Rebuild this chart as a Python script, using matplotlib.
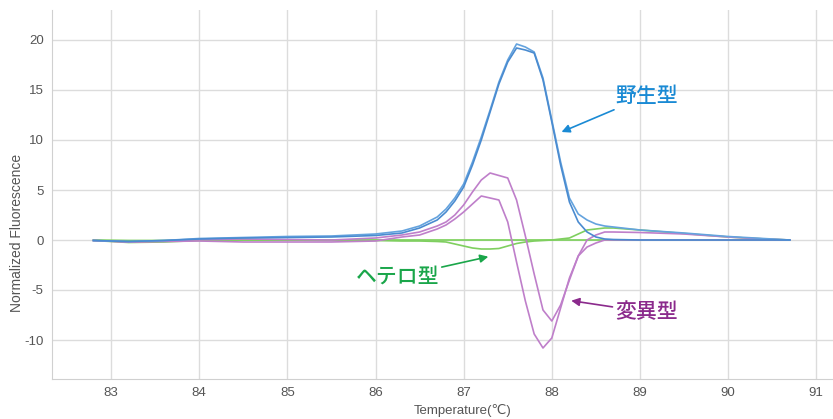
import matplotlib
matplotlib.use("Agg")
import matplotlib.pyplot as plt

temps = [82.8, 83.2, 83.6, 84.0, 84.5, 85.0, 85.5, 86.0, 86.3, 86.5, 86.7, 86.8,
         86.9, 87.0, 87.1, 87.2, 87.3, 87.4, 87.5, 87.6, 87.7, 87.8, 87.9, 88.0,
         88.1, 88.2, 88.3, 88.4, 88.5, 88.6, 88.7, 89.0, 89.5, 90.0, 90.3, 90.7]

wild1 = [-0.05, -0.15, -0.05, 0.15, 0.25, 0.35, 0.4, 0.6, 0.9, 1.4, 2.3, 3.1,
         4.2, 5.6, 7.8, 10.3, 13.0, 15.8, 18.0, 19.6, 19.3, 18.8, 16.2, 12.0,
         7.8, 4.2, 2.6, 2.0, 1.6, 1.4, 1.3, 1.0, 0.7, 0.35, 0.2, 0.0]
wild2 = [-0.05, -0.15, -0.05, 0.1, 0.2, 0.25, 0.3, 0.45, 0.7, 1.2, 2.0, 2.8,
         3.9, 5.3, 7.5, 10.0, 12.8, 15.6, 17.8, 19.2, 19.0, 18.7, 16.0, 11.8,
         7.5, 3.8, 1.8, 0.8, 0.3, 0.1, 0.05, 0.0, 0.0, 0.0, 0.0, 0.0]
mut1 = [-0.05, -0.2, -0.1, 0.05, 0.1, 0.05, 0.0, 0.2, 0.5, 0.8, 1.4, 1.8,
        2.5, 3.5, 4.8, 6.0, 6.7, 6.45, 6.2, 4.0, 0.4, -3.4, -7.0, -8.1,
        -6.5, -4.0, -1.6, 0.0, 0.5, 0.8, 0.8, 0.75, 0.6, 0.3, 0.15, 0.0]
mut2 = [-0.05, -0.2, -0.15, -0.1, -0.2, -0.2, -0.2, -0.1, 0.3, 0.5, 1.1, 1.5,
        2.1, 2.8, 3.6, 4.4, 4.2, 4.0, 1.8, -2.2, -6.1, -9.4, -10.8, -9.8,
        -6.8, -3.8, -1.6, -0.7, -0.3, 0.0, 0.0, 0.0, 0.0, 0.0, 0.0, 0.0]
het1 = [-0.05, -0.25, -0.2, -0.05, 0.0, 0.0, -0.05, -0.05, -0.1, -0.1, -0.15, -0.2,
        -0.4, -0.6, -0.8, -0.9, -0.9, -0.85, -0.6, -0.35, -0.2, -0.1, -0.05, 0.0,
        0.1, 0.2, 0.6, 1.0, 1.1, 1.2, 1.2, 1.0, 0.65, 0.3, 0.15, 0.0]
het2 = [0.0, -0.05, -0.05, 0.0, 0.0, 0.0, 0.0, 0.0, 0.0, 0.0, 0.0, 0.0,
        0.0, 0.0, 0.0, 0.0, 0.0, 0.0, 0.0, 0.0, 0.0, 0.0, 0.0, 0.0,
        0.0, 0.0, 0.0, 0.0, 0.0, 0.0, 0.0, 0.0, 0.0, 0.0, 0.0, 0.0]

xticks = [83, 84, 85, 86, 87, 88, 89, 90, 91]
yticks = [-10, -5, 0, 5, 10, 15, 20]

plt.rcParams['font.family'] = ['Liberation Sans', 'DejaVu Sans']
plt.rcParams['axes.unicode_minus'] = False
jp = ['Noto Sans CJK JP', 'DejaVu Sans']

fig = plt.figure(figsize=(8.33, 4.19), dpi=100)
ax = fig.add_axes([52/833, 40/419, 781/833, 369/419])

purple = '#bf7fca'
green = '#7fcf5f'

ax.plot(temps, het2, color='#79d157', lw=1.2, zorder=2)
ax.plot(temps, het1, color=green, lw=1.2, zorder=2)
ax.plot(temps, mut1, color=purple, lw=1.2, zorder=3)
ax.plot(temps, mut2, color=purple, lw=1.2, zorder=3)
ax.plot(temps, wild1, color='#64a3de', lw=1.2, zorder=4)
ax.plot(temps, wild2, color='#4a8bd0', lw=1.2, zorder=4)

ax.set_xlim(82.33, 91.19)
ax.set_ylim(-13.9, 23.0)
ax.set_xticks(xticks)
ax.set_yticks(yticks)
ax.grid(True, color='#dcdcdc', lw=1.0)
ax.set_axisbelow(True)
for s in ['top', 'right']:
    ax.spines[s].set_visible(False)
for s in ['left', 'bottom']:
    ax.spines[s].set_color('#d0d0d0')
ax.tick_params(length=0, labelsize=9.5, colors='#555555')
ax.tick_params(axis='x', pad=6)
ax.tick_params(axis='y', pad=6)
ax.set_xlabel('Temperature(℃)', fontsize=9.5, color='#555555', va='center',
              family=['Liberation Sans', 'DejaVu Sans'])
ax.xaxis.set_label_coords((463-52)/781, (379-410)/369)
ax.set_ylabel('Normalized Fluorescence', fontsize=10, color='#555555', va='center')
ax.yaxis.set_label_coords((17-52)/781, (379-233)/369)

ax.annotate('野生型', xy=(88.11, 10.8), xytext=(88.72, 14.4), family=jp,
            fontsize=15, fontweight='medium', color='#1a8ad4', va='center', ha='left',
            arrowprops=dict(arrowstyle='-|>', color='#1a8ad4', lw=1.2,
                            mutation_scale=12, shrinkA=0, shrinkB=0))
ax.annotate('ヘテロ型', xy=(87.28, -1.67), xytext=(86.72, -3.7), family=jp,
            fontsize=15, fontweight='medium', color='#1aa64a', va='center', ha='right',
            arrowprops=dict(arrowstyle='-|>', color='#1aa64a', lw=1.2,
                            mutation_scale=12, shrinkA=0, shrinkB=0))
ax.annotate('変異型', xy=(88.22, -6.07), xytext=(88.72, -7.2), family=jp,
            fontsize=15, fontweight='medium', color='#8b2a8c', va='center', ha='left',
            arrowprops=dict(arrowstyle='-|>', color='#8b2a8c', lw=1.2,
                            mutation_scale=12, shrinkA=0, shrinkB=0))

fig.savefig('out.png', dpi=100)
